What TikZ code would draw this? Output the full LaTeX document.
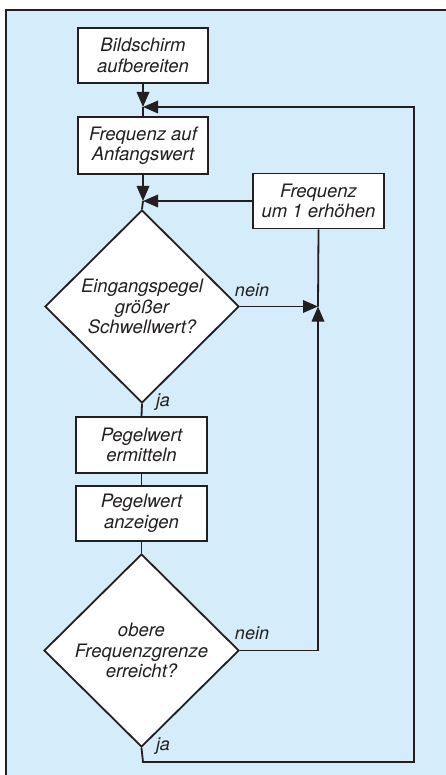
\documentclass[tikz,border=0pt]{standalone}
\usepackage{fontspec}
\setmainfont{TeX Gyre Heros}
\usetikzlibrary{shapes.geometric,arrows.meta}
\definecolor{panelblue}{RGB}{213,236,250}
\definecolor{inkgray}{RGB}{35,31,32}

\tikzset{
  flowbox/.style={draw=inkgray, line width=1.8pt, fill=white, align=center, inner sep=0pt,
    text=inkgray, font=\fontsize{18.5}{20.5}\selectfont\itshape},
  flowtest/.style={diamond, draw=inkgray, line width=1.8pt, fill=white, align=center,
    inner sep=0pt, minimum width=194pt, minimum height=193pt,
    text=inkgray, font=\fontsize{18.5}{20.5}\selectfont\itshape},
  flowline/.style={draw=inkgray, line width=1.8pt},
  flowarrow/.style={flowline, -{Triangle[length=15pt,width=12.5pt]}},
  answer/.style={font=\fontsize{18}{20}\selectfont\itshape, text=inkgray, inner sep=0pt}
}

\begin{document}
\begin{tikzpicture}[x=1pt, y=-1pt]
    \useasboundingbox (0,0) rectangle (446,775);

    % Panel
    \fill[panelblue] (6,10) rectangle (446,775);
    \draw[inkgray, line width=1.5pt] (6,775) -- (6,10) -- (446,10);

    % Boxes
    \node[flowbox, minimum width=130pt, minimum height=55pt] (bild) at (143,55.5) {Bildschirm\\aufbereiten};
    \node[flowbox, minimum width=130pt, minimum height=57pt] (start) at (143,145.5) {Frequenz auf\\Anfangswert};
    \node[flowbox, minimum width=131pt, minimum height=55pt] (step) at (318.5,201) {Frequenz\\um 1 erhöhen};
    \node[flowtest] (pegel) at (142,306.5) {Eingangspegel\\größer\\Schwellwert?};
    \node[flowbox, minimum width=131pt, minimum height=56pt] (mess) at (141.5,445) {Pegelwert\\ermitteln};
    \node[flowbox, minimum width=131pt, minimum height=55pt] (show) at (141.5,513.5) {Pegelwert\\anzeigen};
    \node[flowtest, minimum width=195pt] (grenze) at (141.5,650.5) {obere\\Frequenzgrenze\\erreicht?};

    % Junctions
    \coordinate (join1) at (143,107);
    \coordinate (join2) at (143,201);
    \coordinate (join3) at (318,306.5);
    \coordinate (turn1) at (318,650.5);
    \coordinate (turn2) at (143,762);
    \coordinate (turn3) at (414,762);
    \coordinate (turn4) at (414,107);

    % Main flow
    \draw[flowarrow] (bild.south) -- (join1);
    \draw[flowline] (join1) -- (start.north);
    \draw[flowarrow] (start.south) -- (join2);
    \draw[flowline] (join2) -- (pegel.north);
    \draw[flowline] (pegel.south) -- (mess.north);
    \draw[flowline] (mess.south) -- (show.north);
    \draw[flowline] (show.south) -- (grenze.north);

    % Loops
    \draw[flowarrow] (pegel.east) -- (join3);
    \draw[flowline] (join3) -- (step.south);
    \draw[flowarrow] (step.west) -- (join2);
    \draw[flowarrow] (grenze.east) -- (turn1) -- (join3);
    \draw[flowarrow] (grenze.south) -- (turn2) -- (turn3) -- (turn4) -- (join1);

    % Labels
    \node[answer] (nein1) at (252,290) {nein};
    \node[answer] (ja1) at (163,402) {ja};
    \node[answer] (nein2) at (252,633) {nein};
    \node[answer] (ja2) at (163,746) {ja};
\end{tikzpicture}
\end{document}
